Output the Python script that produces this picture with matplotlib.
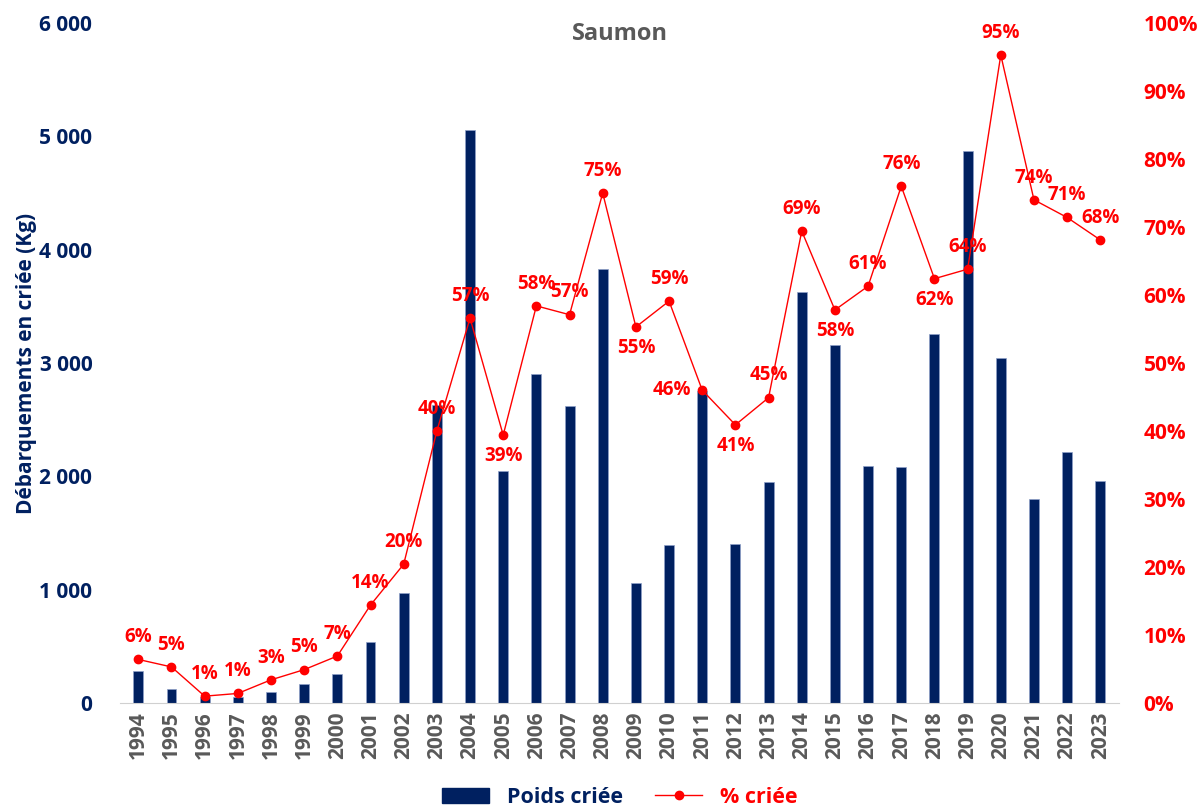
import matplotlib.pyplot as plt
import numpy as np
from matplotlib.lines import Line2D
from matplotlib.patches import Patch

plt.rcParams['font.family'] = ['Open Sans', 'DejaVu Sans']
plt.rcParams['font.weight'] = 'bold'
plt.rcParams['axes.labelweight'] = 'bold'

years = [str(y) for y in range(1994, 2024)]
poids = [282, 124, 50, 50, 97, 168, 256, 538, 971, 2630,
         5057, 2048, 2904, 2621, 3830, 1059, 1394, 2754, 1403, 1950,
         3627, 3160, 2092, 2083, 3257, 4872, 3045, 1800, 2215, 1959]
pct = [6.4, 5.3, 1.0, 1.4, 3.4, 4.9, 6.9, 14.4, 20.4, 40.0,
       56.6, 39.4, 58.4, 57.1, 75.0, 55.3, 59.1, 46.0, 40.9, 44.9,
       69.4, 57.8, 61.3, 76.0, 62.4, 63.8, 95.3, 74.0, 71.4, 68.1]
# label placement: 'a' above, 'b' below, 'l' left
label_pos = ['a'] * 30
for yr, p in [('2005', 'b'), ('2009', 'b'), ('2012', 'b'), ('2015', 'b'),
              ('2018', 'b'), ('2011', 'l')]:
    label_pos[years.index(yr)] = p

navy = '#002060'
red = '#FF0000'
grey = '#595959'

fig = plt.figure(figsize=(12.03, 8.08), dpi=100)
ax = fig.add_axes([0.0998, 0.130, 0.830, 0.8415])
x = np.arange(len(years))
ax.bar(x, poids, width=0.3, color=navy, edgecolor='#8ea0c8', linewidth=0.5, zorder=2)
ax.set_xlim(-0.55, len(years) - 0.45)
ax.set_ylim(0, 6000)
ax.set_yticks(np.arange(0, 6001, 1000))
ax.set_yticklabels(['0' if v == 0 else f'{v // 1000} 000' for v in range(0, 6001, 1000)],
                   fontweight='bold')
ax.tick_params(axis='y', colors=navy, labelsize=15, length=0, pad=20)
ax.set_xticks(x)
ax.set_xticklabels(years, rotation=90, color=grey, fontsize=15, fontweight='bold')
ax.tick_params(axis='x', length=0, pad=6)
for s in ['top', 'left', 'right']:
    ax.spines[s].set_visible(False)
ax.spines['bottom'].set_color('#d0d0d0')
ax.set_ylabel('Débarquements en criée (Kg)', color=navy, fontsize=15, fontweight='bold', labelpad=2)

ax2 = ax.twinx()
ax2.plot(x, pct, color=red, linewidth=1, marker='o', markersize=6, zorder=3)
ax2.set_ylim(0, 100)
ax2.set_yticks(np.arange(0, 101, 10))
ax2.set_yticklabels([f'{v}%' for v in range(0, 101, 10)], fontweight='bold')
ax2.tick_params(axis='y', colors=red, labelsize=15, length=0, pad=18)
for s in ['top', 'left', 'right', 'bottom']:
    ax2.spines[s].set_visible(False)

for xi, p, pos in zip(x, pct, label_pos):
    if pos == 'a':
        off = (0, 16)
    elif pos == 'b':
        off = (0, -15)
    else:
        off = (-22, 0)
    ax2.annotate(f'{round(p)}%', (xi, p), xytext=off, textcoords='offset points',
                 ha='center', va='center', color=red, fontsize=13.5, fontweight='bold')

fig.text(0.515, 0.958, 'Saumon', ha='center', va='center', color=grey, fontsize=17, fontweight='bold')

handles = [Patch(color=navy), Line2D([0], [0], color=red, marker='o', markersize=6, linewidth=1)]
leg = fig.legend(handles, ['Poids criée', '% criée'], loc='center', bbox_to_anchor=(0.515, 0.013),
                 ncol=2, frameon=False, handlelength=2.2, columnspacing=1.5,
                 prop={'size': 15.5, 'weight': 'bold'})
for t, c in zip(leg.get_texts(), [navy, red]):
    t.set_color(c)

fig.savefig('out.png', dpi=100)
